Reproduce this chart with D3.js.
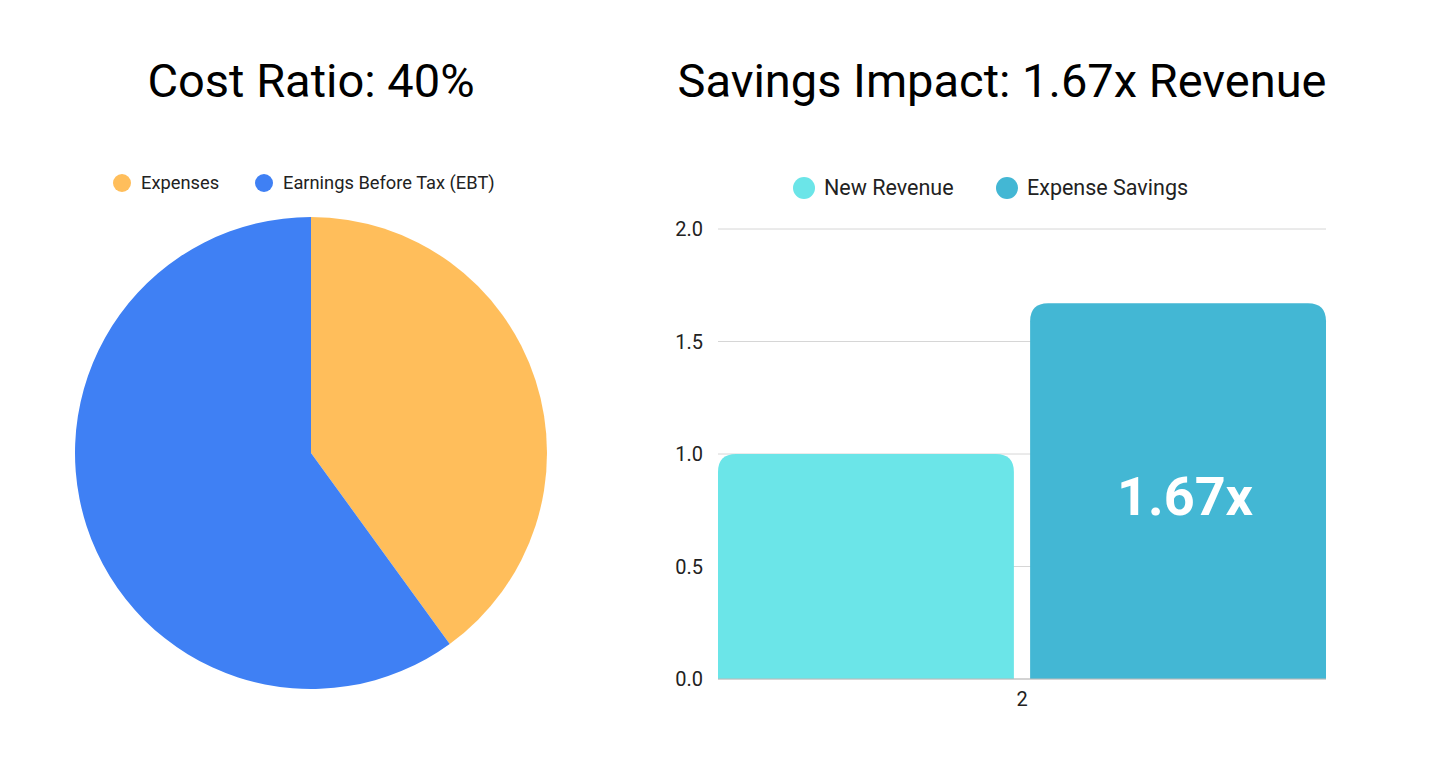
<!DOCTYPE html>
<html><head><meta charset="utf-8">
<script src="https://cdn.jsdelivr.net/npm/d3@7"></script>
<style>body{margin:0;background:#fff;font-family:Roboto,sans-serif;}</style>
</head><body>
<svg id="c" width="1430" height="761"></svg>
<script>
const pieCategories = ["Expenses", "Earnings Before Tax (EBT)"];
const pieValues = [40, 60];
const pieColors = ["#FFBE5B", "#3F80F4"];

const barCategories = ["2"];
const barSeries = ["New Revenue", "Expense Savings"];
const barValues = [1.0, 1.67];
const barColors = ["#6BE5E8", "#43B7D4"];
const yTicks = [0, 0.5, 1.0, 1.5, 2.0];
const barLabel = "1.67x";

const svg = d3.select("#c");

// Titles
svg.append("text").attr("x", 311).attr("y", 97).attr("text-anchor", "middle")
  .attr("font-size", 47).attr("fill", "#000").text("Cost Ratio: 40%");
svg.append("text").attr("x", 1002).attr("y", 97).attr("text-anchor", "middle")
  .attr("font-size", 47).attr("fill", "#000").text("Savings Impact: 1.67x Revenue");

// Pie legend
const pl = svg.append("g");
const plX = [122, 264];
pieCategories.forEach((c, i) => {
  pl.append("circle").attr("cx", plX[i]).attr("cy", 183).attr("r", 9).attr("fill", pieColors[i]);
  pl.append("text").attr("x", plX[i] + 19).attr("y", 189).attr("font-size", 18.3).attr("fill", "#222").text(c);
});

// Pie
const pie = d3.pie().sort(null).value(d => d)(pieValues);
const arc = d3.arc().innerRadius(0).outerRadius(236);
svg.append("g").attr("transform", "translate(311,453)")
  .selectAll("path").data(pie).join("path")
  .attr("d", arc).attr("fill", (d, i) => pieColors[i]);

// Bar chart
const x0 = 718, x1 = 1326, yTop = 229, yBot = 679;
const y = d3.scaleLinear().domain([0, 2]).range([yBot, yTop]);
const xb = d3.scaleBand().domain(barCategories).range([x0, x1]).padding(0);
const xs = d3.scaleBand().domain(barSeries).range([0, xb.bandwidth()]).paddingInner(0.052);

const g = svg.append("g");
g.selectAll("line.grid").data(yTicks).join("line").attr("class", "grid")
  .attr("x1", x0).attr("x2", x1).attr("y1", d => y(d)).attr("y2", d => y(d))
  .attr("stroke", "#d6d6d6").attr("stroke-width", 1);
g.selectAll("text.yt").data(yTicks).join("text").attr("class", "yt")
  .attr("x", 703).attr("y", d => y(d) + 7).attr("text-anchor", "end")
  .attr("font-size", 20).attr("fill", "#222").text(d => d.toFixed(1));

const r = 18;
function roundTopRect(x, yy, w, h, rr) {
  return `M${x},${yy + h}V${yy + rr}Q${x},${yy} ${x + rr},${yy}H${x + w - rr}Q${x + w},${yy} ${x + w},${yy + rr}V${yy + h}Z`;
}
barSeries.forEach((s, i) => {
  const bx = xb("2") + xs(s), bw = xs.bandwidth();
  const by = y(barValues[i]), bh = yBot - by;
  g.append("path").attr("d", roundTopRect(bx, by, bw, bh, r)).attr("fill", barColors[i]);
});
g.append("line").attr("x1", x0).attr("x2", x1).attr("y1", yBot).attr("y2", yBot)
  .attr("stroke", "#bbb").attr("stroke-width", 1);

// bar label
const bx2 = xb("2") + xs(barSeries[1]);
g.append("text").attr("x", bx2 + xs.bandwidth() / 2 + 7).attr("y", 515).attr("text-anchor", "middle")
  .attr("font-size", 54).attr("font-weight", "bold").attr("fill", "#fff").text(barLabel);

// x label
g.append("text").attr("x", xb("2") + xb.bandwidth() / 2).attr("y", 706).attr("text-anchor", "middle")
  .attr("font-size", 20).attr("fill", "#222").text(barCategories[0]);

// Bar legend
const blX = [804, 1007];
barSeries.forEach((s, i) => {
  svg.append("circle").attr("cx", blX[i]).attr("cy", 188).attr("r", 11).attr("fill", barColors[i]);
  svg.append("text").attr("x", blX[i] + 20).attr("y", 195).attr("font-size", 21.5).attr("fill", "#222").text(s);
});
</script>
</body></html>
